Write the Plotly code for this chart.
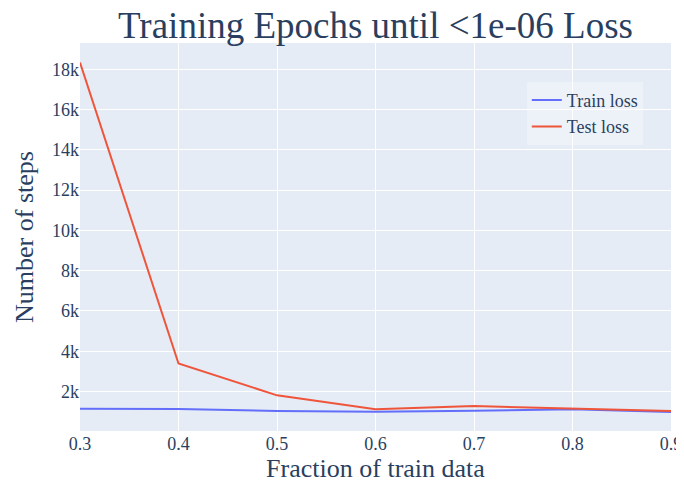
import plotly.graph_objects as go

fractions = [0.3, 0.4, 0.5, 0.6, 0.7, 0.8, 0.9]
train_steps = [1150, 1135, 1035, 1000, 1050, 1115, 985]
test_steps = [18330, 3390, 1810, 1115, 1280, 1165, 1030]

fig = go.Figure()
fig.add_trace(go.Scatter(x=fractions, y=train_steps, mode="lines", name="Train loss",
                         line=dict(color="#636efa", width=2)))
fig.add_trace(go.Scatter(x=fractions, y=test_steps, mode="lines", name="Test loss",
                         line=dict(color="#ef553b", width=2)))

fig.update_layout(
    template="plotly",
    width=684, height=482,
    font=dict(family="Liberation Serif", size=18, color="#2a3f5f"),
    title=dict(text="Training Epochs until <1e-06 Loss", x=0.5, xref="paper", xanchor="center",
               y=0.992, yanchor="top", font=dict(size=37)),
    margin=dict(l=72, r=21, t=35, b=59, autoexpand=False),
    legend=dict(x=0.756, y=0.9, xanchor="left", yanchor="top",
                bgcolor="rgba(255,255,255,0.3)", font=dict(size=18)),
    xaxis=dict(title=dict(text="Fraction of train data", font=dict(size=26), standoff=3),
               range=[0.3, 0.9], dtick=0.1, automargin=False),
    yaxis=dict(title=dict(text="Number of steps", font=dict(size=26), standoff=10),
               range=[40, 19300], dtick=2000, tickformat="~s", automargin=False),
)

fig.write_html("out.html")
